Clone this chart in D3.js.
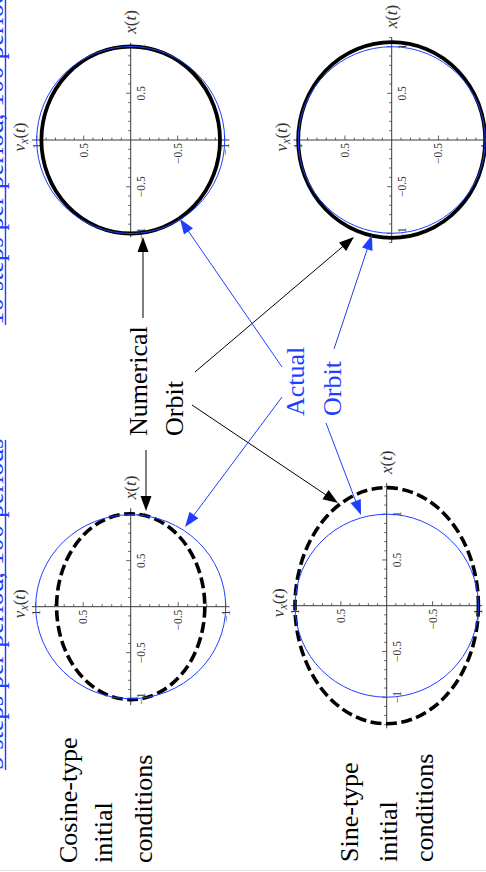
<!DOCTYPE html>
<html><head><meta charset="utf-8">
<script src="https://cdn.jsdelivr.net/npm/d3@7"></script>
<style>body{margin:0;background:#fff}svg{display:block}</style>
</head><body>
<script>
// ---------- data ----------
const panelNames = ["10 steps, cosine", "10 steps, sine", "5 steps, cosine", "5 steps, sine"];
const numericalXAmp = [1.0, 1.05, 1.01, 1.29];   // x(t) amplitude of numerical orbit
const numericalVAmp = [0.95, 1.0, 0.78, 1.0];    // v_x(t) amplitude of numerical orbit
const actualAmp = [1, 1, 1, 1];                  // actual orbit (unit circle)
const xAxisMax = [1.04, 1.1, 1.07, 1.34];
const vAxisMax = [1.05, 1.05, 1.04, 1.04];
const majorTickValues = [-1, -0.5, 0.5, 1];
const majorTickLabels = ["\u22121", "\u22120.5", "0.5", "1"];
const rowTitles = ["10 steps per period, 100 periods", "5 steps per period, 100 periods"];
const numericalLabel = ["Numerical", "Orbit"];
const actualLabel = ["Actual", "Orbit"];
const cosLabel = ["Cosine-type", "initial", "conditions"];
const sinLabel = ["Sine-type", "initial", "conditions"];

// ---------- layout ----------
const W = 486, H = 872;
const layout = [
  {cx: 130.7, cy: 140, uh: 94, uv: 93.5, dashed: false},
  {cx: 391.7, cy: 140, uh: 93.5, uv: 93.3, dashed: false},
  {cx: 130.7, cy: 606.7, uh: 95, uv: 92, dashed: true},
  {cx: 386.7, cy: 605.7, uh: 91.7, uv: 91.5, dashed: true}
];
const BLUE = "#1f3fff";
const SERIF = "'Liberation Serif','Times New Roman','DejaVu Serif',serif";

const svg = d3.select("body").append("svg").attr("width", W).attr("height", H);

function rtext(g, x, y, str, o = {}) {
  return g.append("text")
    .attr("transform", `translate(${x},${y}) rotate(-90)`)
    .attr("text-anchor", o.anchor || "start")
    .attr("dominant-baseline", o.baseline || "alphabetic")
    .attr("font-family", SERIF)
    .attr("font-size", o.size || 26)
    .attr("fill", o.fill || "#000")
    .text(str);
}

// faint page edge
svg.append("line").attr("x1", 0).attr("x2", W).attr("y1", 870.5).attr("y2", 870.5)
  .attr("stroke", "#e4e4e4").attr("stroke-width", 1);

// ---------- panels ----------
panelNames.forEach((name, i) => {
  const L = layout[i];
  const g = svg.append("g").attr("class", "panel");
  // v_x(t) -> page horizontal (positive to the left); x(t) -> page vertical (positive up)
  const vScale = d3.scaleLinear().domain([-1, 1]).range([L.cx + L.uh, L.cx - L.uh]);
  const xScale = d3.scaleLinear().domain([-1, 1]).range([L.cy + L.uv, L.cy - L.uv]);
  const ox = vScale(0), oy = xScale(0);
  const axisCol = "#3a3a3a";

  // axes lines
  g.append("line").attr("x1", vScale(vAxisMax[i])).attr("x2", vScale(-vAxisMax[i]))
    .attr("y1", oy).attr("y2", oy).attr("stroke", axisCol).attr("stroke-width", 1);
  g.append("line").attr("x1", ox).attr("x2", ox)
    .attr("y1", xScale(xAxisMax[i])).attr("y2", xScale(-xAxisMax[i]))
    .attr("stroke", axisCol).attr("stroke-width", 1);

  // minor + major ticks
  const vMinor = d3.range(-Math.floor(vAxisMax[i] * 10 + 1e-6), Math.floor(vAxisMax[i] * 10 + 1e-6) + 1)
    .map(d => d / 10).filter(d => Math.abs(d) > 1e-6);
  const xMinor = d3.range(-Math.floor(xAxisMax[i] * 10 + 1e-6), Math.floor(xAxisMax[i] * 10 + 1e-6) + 1)
    .map(d => d / 10).filter(d => Math.abs(d) > 1e-6);
  const isMajor = d => majorTickValues.some(m => Math.abs(m - d) < 1e-6);
  g.selectAll(".vt").data(vMinor).join("line")
    .attr("x1", d => vScale(d)).attr("x2", d => vScale(d))
    .attr("y1", oy).attr("y2", d => oy - (isMajor(d) ? 4.5 : 2.5))
    .attr("stroke", axisCol).attr("stroke-width", 0.8);
  g.selectAll(".xt").data(xMinor).join("line")
    .attr("y1", d => xScale(d)).attr("y2", d => xScale(d))
    .attr("x1", ox).attr("x2", d => ox - (isMajor(d) ? 4.5 : 2.5))
    .attr("stroke", axisCol).attr("stroke-width", 0.8);

  // tick labels
  majorTickValues.forEach((v, k) => {
    rtext(g, vScale(v), oy + 3, majorTickLabels[k], {anchor: "end", baseline: "central", size: 11.5, fill: "#333"});
    rtext(g, ox + 10, xScale(v), majorTickLabels[k], {anchor: "middle", baseline: "central", size: 11.5, fill: "#333"});
  });

  // axis titles
  const xt = g.append("text")
    .attr("transform", `translate(${ox + 5},${xScale(xAxisMax[i]) - 9}) rotate(-90)`)
    .attr("font-family", SERIF).attr("font-size", 17).attr("fill", "#333");
  xt.append("tspan").attr("font-style", "italic").text("x");
  xt.append("tspan").text("(");
  xt.append("tspan").attr("font-style", "italic").text("t");
  xt.append("tspan").text(")");

  const vt = g.append("text")
    .attr("transform", `translate(${vScale(vAxisMax[i]) - 7},${oy - 3}) rotate(-90)`)
    .attr("text-anchor", "middle")
    .attr("font-family", SERIF).attr("font-size", 17).attr("fill", "#333");
  vt.append("tspan").attr("font-style", "italic").text("v");
  vt.append("tspan").attr("font-style", "italic").attr("font-size", 12).attr("dy", 3).text("x");
  vt.append("tspan").attr("dy", -3).text("(");
  vt.append("tspan").attr("font-style", "italic").text("t");
  vt.append("tspan").text(")");

  // numerical orbit
  g.append("ellipse").attr("cx", ox).attr("cy", oy)
    .attr("rx", ox - vScale(numericalVAmp[i])).attr("ry", oy - xScale(numericalXAmp[i]))
    .attr("fill", "none").attr("stroke", "#000").attr("stroke-width", L.dashed ? 3.6 : 3.8)
    .attr("stroke-dasharray", L.dashed ? "11,4.5" : null);
  // actual orbit
  g.append("ellipse").attr("cx", ox).attr("cy", oy)
    .attr("rx", ox - vScale(actualAmp[i])).attr("ry", oy - xScale(actualAmp[i]))
    .attr("fill", "none").attr("stroke", BLUE).attr("stroke-width", 1);
});

// ---------- row titles (link-style, mostly clipped) ----------
const titleY = [325, 770];
rowTitles.forEach((t, k) => {
  rtext(svg, 3, titleY[k], t, {size: 27, fill: BLUE});
  svg.append("line").attr("x1", 5.5).attr("x2", 5.5)
    .attr("y1", titleY[k]).attr("y2", k === 0 ? 0 : titleY[k] - 330)
    .attr("stroke", BLUE).attr("stroke-width", 1.4);
});

// ---------- annotation labels ----------
rtext(svg, 147, 436, numericalLabel[0]);
rtext(svg, 183, 436, numericalLabel[1]);
rtext(svg, 304, 416, actualLabel[0], {fill: BLUE});
rtext(svg, 341, 416, actualLabel[1], {fill: BLUE});
[77, 112, 152].forEach((x, k) => rtext(svg, x, 863, cosLabel[k]));
[358, 397, 433].forEach((x, k) => rtext(svg, x, 862, sinLabel[k]));

// ---------- arrows ----------
const arrows = [
  {from: [143, 318], to: [143, 237], c: "#000"},
  {from: [146, 450], to: [146, 511], c: "#000"},
  {from: [195, 372], to: [354, 237], c: "#000"},
  {from: [192, 405], to: [338, 503], c: "#000"},
  {from: [282, 367], to: [180, 219], c: BLUE},
  {from: [282, 397], to: [185, 527], c: BLUE},
  {from: [334, 349], to: [372, 235], c: BLUE},
  {from: [326, 423], to: [361, 515], c: BLUE}
];
arrows.forEach(a => {
  const [x0, y0] = a.from, [x1, y1] = a.to;
  const dx = x1 - x0, dy = y1 - y0, len = Math.hypot(dx, dy);
  const ux = dx / len, uy = dy / len, hl = 15, hw = 5.5;
  const bx = x1 - ux * hl, by = y1 - uy * hl;
  svg.append("line").attr("x1", x0).attr("y1", y0).attr("x2", bx + ux * 2).attr("y2", by + uy * 2)
    .attr("stroke", a.c).attr("stroke-width", 1);
  svg.append("path")
    .attr("d", `M${x1},${y1}L${bx - uy * hw},${by + ux * hw}L${bx + uy * hw},${by - ux * hw}Z`)
    .attr("fill", a.c);
});
</script>
</body></html>
